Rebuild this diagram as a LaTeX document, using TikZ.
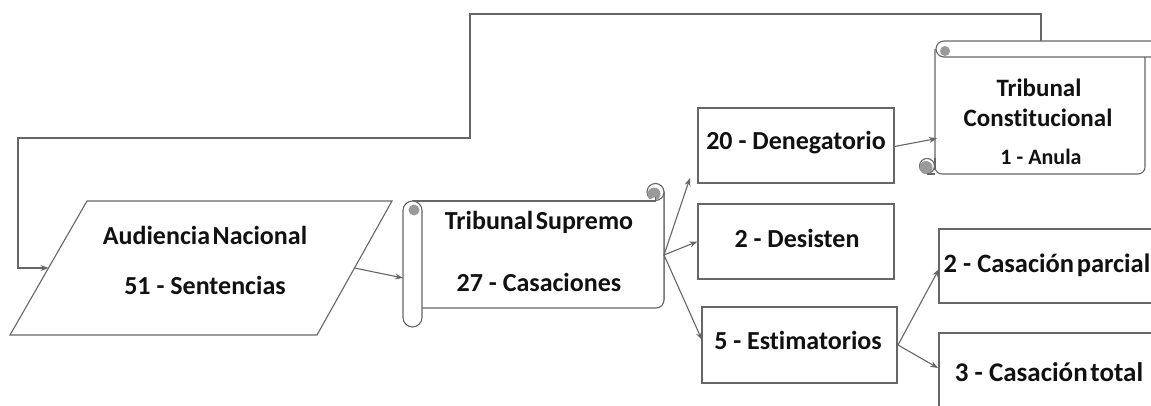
\documentclass[tikz,border=0pt]{standalone}
\usepackage{fontspec}
\setmainfont[Ligatures=NoCommon]{Carlito}
\usetikzlibrary{arrows.meta}
\definecolor{ln}{HTML}{666666}
\definecolor{curl}{HTML}{9A9A9A}
\definecolor{txt}{HTML}{111111}
\tikzset{
  shapeline/.style={draw=ln, line width=1.1pt, fill=white},
  conn/.style={draw=ln, line width=1.1pt, -{Stealth[length=8pt,width=6pt]}},
  lbl/.style={text=txt, font=\bfseries, inner sep=0pt, anchor=center},
}
\newcommand{\fs}[1]{\fontsize{#1}{#1}\selectfont}
\newcommand{\tsp}{\hspace{0.1em}}
\begin{document}
\begin{tikzpicture}[x=1pt,y=-1pt]
\useasboundingbox (0,0) rectangle (1151,406);
\clip (0,0) rectangle (1151,406);
\fill[white] (0,0) rectangle (1151,406);

% ---------- Audiencia Nacional (parallelogram)
\path[shapeline] (87,201) -- (392,201) -- (317,335) -- (10,335) -- cycle;
\coordinate (anL) at (48.5,268);
\coordinate (anR) at (354.5,268);
\node[lbl] (an1) at (205,235) {\fs{26}Audiencia\tsp Nacional};
\node[lbl] (an2) at (205,285) {\fs{26}51 - Sentencias};

% ---------- Tribunal Supremo (horizontal scroll)
\path[shapeline] (412,201) -- (655,201) -- (655,184) -- (664,192) -- (664,300);
\draw[shapeline] (664,192) -- (664,300) [rounded corners=8pt] -- (664,308) -- (422,308);
\draw[ln, line width=1.1pt] (412,201) -- (655,201);
\draw[ln, line width=1.1pt, fill=white] (655.5,192) circle (8.5);
\fill[curl] (654,194) circle (6.5);
\draw[ln, line width=1.1pt, fill=white] (646,201) -- (655.5,201) -- (655.5,197);
\draw[shapeline, rounded corners=9.5pt] (403,201) rectangle (422,327);
\fill[curl] (414,210) circle (5.5);
\coordinate (tsL) at (403,278);
\coordinate (tsR) at (664,255);
\node[lbl] (ts1) at (539,222) {\fs{26}Tribunal\tsp Supremo};
\node[lbl] (ts2) at (539,282) {\fs{26}27 - Casaciones};

% ---------- middle boxes
\node[shapeline, minimum width=196pt, minimum height=75pt, inner sep=0pt] (den) at (796,145.5) {};
\node[lbl] at (796,143) {\fs{26}20 - Denegatorio};
\node[shapeline, minimum width=196pt, minimum height=75pt, inner sep=0pt] (des) at (796,241.5) {};
\node[lbl] at (797,238) {\fs{26}2 - Desisten};
\node[shapeline, minimum width=195pt, minimum height=76pt, inner sep=0pt] (est) at (799.5,345) {};
\node[lbl] at (798,340) {\fs{26}5 - Estimatorios};

% ---------- Tribunal Constitucional (vertical scroll)
\draw[shapeline, rounded corners=7pt] (935,49) -- (935,174) -- (1145,174) -- (1145,57);
\draw[shapeline, rounded corners=8pt] (936,41) rectangle (1170,57);
\fill[curl] (945,51) circle (5);
\draw[ln, line width=1.1pt, fill=white] (927,166) circle (7.5);
\fill[curl] (926,167.5) circle (6.5);
\draw[ln, line width=1.1pt] (927,174) -- (935,174);
\draw[ln, line width=1.1pt] (935,158) -- (935,170);
\coordinate (tcL) at (937,138.5);
\coordinate (tcT) at (1041,41);
\node[lbl] (tc1) at (1039,88) {\fs{25}Tribunal};
\node[lbl] (tc2) at (1038,118) {\fs{25}Constitucional};
\node[lbl] (tc3) at (1041,157) {\fs{22}1 - Anula};

% ---------- right boxes
\draw[shapeline] (939,229) rectangle (1175,303);
\coordinate (parL) at (939,269);
\node[lbl] (par) at (1047,265) {\fs{26.5}2 - Casación\tsp parcial};
\draw[shapeline] (939,333) rectangle (1175,420);
\coordinate (totL) at (938,368);
\node[lbl] (tot) at (1049,372) {\fs{27}3 - Casación\tsp total};

% ---------- connectors
\draw[conn] (anR) -- (tsL);
\draw[conn] (tsR) -- (690,178);
\draw[conn] (tsR) -- (des.west);
\draw[conn] (tsR) -- (702,340);
\draw[conn] (den.east) ++(0,1) -- (tcL);
\coordinate (estR) at (898,345);
\draw[conn] (estR) -- (parL);
\draw[conn] (estR) -- (totL);
\draw[conn] (tcT) -- (1041,14) -- (470,14) -- (470,138) -- (18,138) -- (18,268) -- (anL);
\end{tikzpicture}
\end{document}
